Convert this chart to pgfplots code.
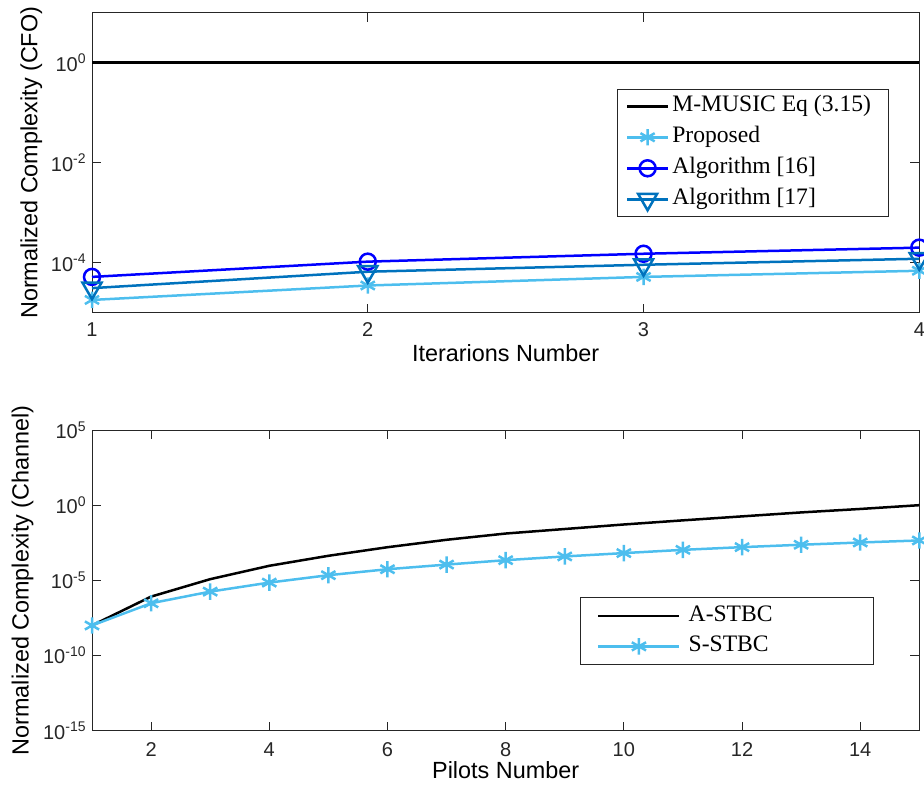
\documentclass[border=0pt]{standalone}
\usepackage{fontspec}
\setmainfont{Liberation Sans}
\newfontfamily\legendfont{Liberation Serif}
\usepackage{pgfplots}
\pgfplotsset{compat=1.18}

\definecolor{axgray}{rgb}{0.15,0.15,0.15}
\definecolor{mlblue}{rgb}{0,0,1}
\definecolor{mldark}{rgb}{0,0.447,0.741}
\definecolor{mllight}{rgb}{0.301,0.745,0.933}

\begin{document}
\begin{tikzpicture}
\path[use as bounding box] (0,0) rectangle (462pt,-392.5pt);

% ---- CFO complexity versus iterations ----
\begin{axis}[
  scale only axis,
  width=413.65pt, height=150pt,
  at={(46pt,-156.35pt)}, anchor=south west,
  ymode=log,
  clip=false,
  axis line style={axgray, line width=0.5pt},
  major tick style={axgray, line width=0.5pt},
  major tick length=4.5pt,
  tick align=inside,
  xtick pos=both, ytick pos=both,
  yminorticks=false,
  /pgf/number format/assume math mode=true,
  tick label style={font=\fontsize{10}{12}\selectfont, text=axgray},
  yticklabel style={inner xsep=2.5pt},
  label style={font=\fontsize{11.7}{14}\selectfont},
  legend cell align=left,
  xmin=1, xmax=4,
  ymin=1e-5, ymax=10,
  xtick={1,2,3,4},
  ytick={1e-4,1e-2,1},
  yticklabels={10\textsuperscript{-4},10\textsuperscript{-2},10\textsuperscript{0}},
  xticklabel style={anchor=base, yshift=-12pt},
  xlabel={Iterarions Number},
  ylabel={Normalized Complexity (CFO)},
  xlabel style={at={(axis description cs:0.5,-0.1623)}, anchor=base},
  ylabel style={at={(axis description cs:-0.0732,0.5)}, anchor=center},
  legend image code/.code={\draw[mark repeat=2,mark phase=2,#1] plot coordinates {(0pt,0pt) (10.25pt,0pt) (20.5pt,0pt)};},
  legend style={
    at={(axis description cs:0.635,0.7457)}, anchor=north west,
    draw=axgray, line width=0.5pt,
    font=\legendfont\fontsize{11.8}{14}\selectfont,
    inner xsep=4pt, inner ysep=0.65pt, row sep=0pt,
    nodes={inner xsep=1pt, inner ysep=1.95pt, text height=8.6pt, text depth=3pt},
    /tikz/every odd column/.append style={column sep=0.5pt},
  },
]
\addplot[black, line width=1.25pt] table {
x y
1 1
2 1
3 1
4 1
};
\addlegendentry{\makebox[103pt][l]{M-MUSIC Eq (3.15)}}

\addplot[mllight, line width=1.25pt, mark=asterisk, mark size=4.1pt, mark options={solid}] table {
x y
1 1.8e-5
2 3.5e-5
3 5.2e-5
4 6.9e-5
};
\addlegendentry{Proposed}

\addplot[mlblue, line width=1.25pt, mark=o, mark size=4pt, mark options={solid}] table {
x y
1 5.2e-5
2 1.05e-4
3 1.51e-4
4 2.0e-4
};
\addlegendentry{Algorithm [16]}

\addplot[mldark, line width=1.25pt, mark=triangle, mark size=5.5pt, mark options={solid, rotate=180}] table {
x y
1 3.1e-5
2 6.6e-5
3 9.1e-5
4 1.2e-4
};
\addlegendentry{Algorithm [17]}
\end{axis}

% ---- channel estimation complexity versus pilots ----
\begin{axis}[
  scale only axis,
  width=413.65pt, height=150.35pt,
  at={(46pt,-365.35pt)}, anchor=south west,
  ymode=log,
  clip=false,
  axis line style={axgray, line width=0.5pt},
  major tick style={axgray, line width=0.5pt},
  major tick length=4.5pt,
  tick align=inside,
  xtick pos=both, ytick pos=both,
  yminorticks=false,
  /pgf/number format/assume math mode=true,
  tick label style={font=\fontsize{10}{12}\selectfont, text=axgray},
  yticklabel style={inner xsep=2.5pt},
  label style={font=\fontsize{11.7}{14}\selectfont},
  legend cell align=left,
  xmin=1, xmax=15,
  ymin=1e-15, ymax=1e5,
  xtick={2,4,6,8,10,12,14},
  ytick={1e-15,1e-10,1e-5,1,1e5},
  yticklabels={10\textsuperscript{-15},10\textsuperscript{-10},10\textsuperscript{-5},10\textsuperscript{0},10\textsuperscript{5}},
  xticklabel style={anchor=base, yshift=-13pt},
  xlabel={Pilots Number},
  ylabel={Normalized Complexity (Channel)},
  xlabel style={at={(axis description cs:0.5,-0.159)}, anchor=base},
  ylabel style={at={(axis description cs:-0.084,0.5)}, anchor=center},
  legend image code/.code={\draw[mark repeat=2,mark phase=2,#1] plot coordinates {(0pt,0pt) (20.25pt,0pt) (40.5pt,0pt)};},
  legend style={
    at={(axis description cs:0.590,0.444)}, anchor=north west,
    draw=axgray, line width=0.5pt,
    font=\legendfont\fontsize{11.8}{14}\selectfont,
    inner xsep=8.3pt, inner ysep=1.4pt, row sep=0pt,
    nodes={inner xsep=1pt, inner ysep=1.85pt, text height=8.6pt, text depth=3pt},
    /tikz/every odd column/.append style={column sep=3pt},
  },
]
\addplot[black, line width=1.25pt] table {
x y
1 1.0e-8
2 8.3e-7
3 1.2e-5
4 9.3e-5
5 4.3e-4
6 1.6e-3
7 5.0e-3
8 1.3e-2
9 2.6e-2
10 5.2e-2
11 9.8e-2
12 0.18
13 0.33
14 0.56
15 1.0
};
\addlegendentry{\makebox[82.9pt][l]{A-STBC}}

\addplot[mllight, line width=1.25pt, mark=asterisk, mark size=4.1pt, mark options={solid}] table {
x y
1 1.0e-8
2 3.0e-7
3 1.78e-6
4 7.1e-6
5 2.2e-5
6 5.5e-5
7 1.12e-4
8 2.2e-4
9 3.9e-4
10 6.5e-4
11 1.07e-3
12 1.62e-3
13 2.34e-3
14 3.3e-3
15 4.5e-3
};
\addlegendentry{S-STBC}
\end{axis}
\end{tikzpicture}
\end{document}
